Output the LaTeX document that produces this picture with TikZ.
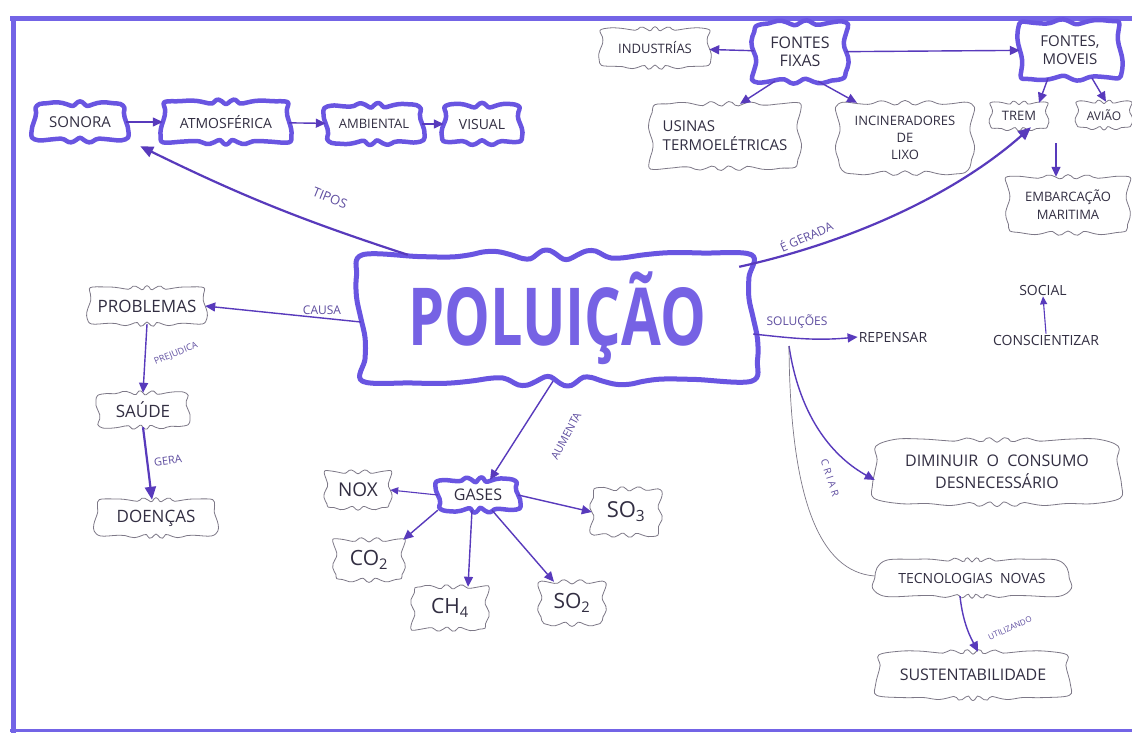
\documentclass[tikz,border=0pt]{standalone}
\usepackage{fontspec}
\setmainfont{Open Sans}
\usetikzlibrary{arrows.meta,calc}

\definecolor{hubc}{RGB}{105,85,225}
\definecolor{framec}{RGB}{115,100,230}
\definecolor{ink}{RGB}{88,58,188}
\definecolor{txt}{RGB}{50,46,66}
\definecolor{cloudc}{RGB}{125,120,135}
\definecolor{lblc}{RGB}{95,78,160}
\definecolor{bigc}{RGB}{118,98,228}

\newcommand\fsz[2]{\fontsize{#1}{#2}\selectfont}

% wavy hand-drawn outline around a node: #1 node, #2 line style, #3 depth, #4 frequency
\newcommand\wobble[4]{%
  \gdef\wobblelist{}%
  \foreach \wt in {0,6,...,354}{%
    \coordinate (#1-w\wt) at ($(#1.\wt)!{(#3)*sin((#4)*\wt)*1pt}!(#1.center)$);%
    \xdef\wobblelist{\wobblelist (#1-w\wt)}%
  }%
  \edef\wobbledraw{\noexpand\draw[#2] plot[smooth cycle, tension=0.6] coordinates {\wobblelist};}%
  \wobbledraw}

\tikzset{
  boxtext/.style={text=txt, align=center, inner sep=3pt},
  hubline/.style={draw=hubc, line width=4.5pt, line join=round},
  bigline/.style={draw=hubc, line width=5pt, line join=round},
  cloudline/.style={draw=cloudc, line width=0.8pt, line join=round},
  plain/.style={text=txt, inner sep=1pt},
  arr/.style={draw=ink, line width=1.4pt, -{Triangle[length=10pt,width=9pt]}},
  thickarr/.style={arr, line width=2.2pt, -{Triangle[length=13pt,width=11pt]}},
  smallarr/.style={arr, line width=1.1pt, -{Triangle[length=8pt,width=7pt]}},
  lbl/.style={text=lblc, inner sep=1pt, font=\fsz{11}{12}},
}

\begin{document}
\begin{tikzpicture}[x=1pt, y=-1pt]
\useasboundingbox (0,0) rectangle (1132,733);
\fill[white] (0,0) rectangle (1132,733);

% page frame
\draw[framec, line width=5pt] (10,19) -- (1132,19);
\draw[framec, line width=5pt] (13,17) -- (13,733);
\draw[framec, line width=3pt] (10,730.5) -- (1132,730.5);

% central concept
\node[boxtext, minimum width=392pt, minimum height=126pt] (poluicao) at (557,318)
  {\textcolor{bigc}{\scalebox{0.72}[1]{\fsz{80}{80}\bfseries POLUIÇÃO}}};
\wobble{poluicao}{bigline}{5}{10}

% types
\node[boxtext, minimum width=92pt, minimum height=36pt, font=\fsz{15}{18}] (sonora) at (80,122) {SONORA};
\node[boxtext, minimum width=126pt, minimum height=40pt, font=\fsz{14}{18}] (atmos) at (226,122) {ATMOSFÉRICA};
\node[boxtext, minimum width=96pt, minimum height=37pt, font=\fsz{13}{18}] (amb) at (374,124) {AMBIENTAL};
\node[boxtext, minimum width=76pt, minimum height=37pt, font=\fsz{14}{18}] (vis) at (482,124) {VISUAL};
\wobble{sonora}{hubline}{2.4}{7}
\wobble{atmos}{hubline}{2.4}{9}
\wobble{amb}{hubline}{2.4}{8}
\wobble{vis}{hubline}{2.4}{7}

\draw[arr] (sonora) -- (atmos);
\draw[arr] (atmos) -- (amb);
\draw[arr] (amb) -- (vis);

\draw[thickarr] ([xshift=47pt]poluicao.north west) to[bend left=4] ([xshift=14pt,yshift=-6pt]sonora.south east);
\node[lbl, rotate=-22, font=\fsz{13}{14}] (tipos) at (330,198) {TIPOS};

% sources
\node[boxtext, minimum width=92pt, minimum height=58pt, font=\fsz{16}{18}] (fixas) at (800,52) {FONTES\\FIXAS};
\node[boxtext, minimum width=100pt, minimum height=56pt, font=\fsz{15}{18}] (moveis) at (1070,50) {FONTES,\\MOVEIS};
\wobble{fixas}{hubline}{2.5}{8}
\wobble{moveis}{hubline}{2.5}{6}
\node[boxtext, minimum width=108pt, minimum height=38pt, font=\fsz{13}{15}] (ind) at (655,48) {INDUSTRÍAS};
\node[boxtext, minimum width=148pt, minimum height=64pt, font=\fsz{15}{19}, align=left] (usinas) at (725,136) {USINAS\\TERMOELÉTRICAS};
\node[boxtext, minimum width=134pt, minimum height=70pt, font=\fsz{13}{17}] (incin) at (905,138) {INCINERADORES\\DE\\LIXO};
\node[boxtext, minimum width=56pt, minimum height=26pt, font=\fsz{13}{15}] (trem) at (1019,116) {TREM};
\node[boxtext, minimum width=54pt, minimum height=26pt, font=\fsz{12}{15}] (aviao) at (1104,115) {AVIÃO};
\node[boxtext, minimum width=120pt, minimum height=56pt, font=\fsz{13}{18}] (embarc) at (1068,205) {EMBARCAÇÃO\\MARITIMA};
\wobble{ind}{cloudline}{2.2}{11}
\wobble{usinas}{cloudline}{2.4}{12}
\wobble{incin}{cloudline}{2.4}{11}
\wobble{trem}{cloudline}{1.8}{9}
\wobble{aviao}{cloudline}{1.8}{9}
\wobble{embarc}{cloudline}{2.2}{11}

\draw[arr] (fixas) -- (ind);
\draw[arr] (fixas) -- (moveis);
\draw[arr] ([xshift=-25pt]fixas.south) -- ([xshift=15pt]usinas.north);
\draw[arr] ([xshift=18pt]fixas.south) -- ([xshift=-48pt]incin.north);
\draw[arr] ([xshift=-22pt]moveis.south) -- ([xshift=20pt]trem.north);
\draw[arr] ([xshift=22pt]moveis.south) -- ([xshift=2pt]aviao.north);
\draw[arr] ([xshift=37pt,yshift=-14pt]trem.south) -- ([xshift=-12pt]embarc.north);

\draw[thickarr] ([xshift=-14pt,yshift=-12pt]poluicao.north east)
  .. controls (860,240) and (960,190) .. ([xshift=12pt,yshift=2pt]trem.south);
\node[lbl, rotate=24, font=\fsz{12}{13}] (gerada) at (806,236) {É GERADA};

% effects
\node[boxtext, minimum width=116pt, minimum height=36pt, font=\fsz{17}{19}] (problemas) at (147,306) {PROBLEMAS};
\node[boxtext, minimum width=90pt, minimum height=34pt, font=\fsz{17}{19}] (saude) at (143,410) {SAÚDE};
\node[boxtext, minimum width=120pt, minimum height=36pt, font=\fsz{17}{19}] (doencas) at (156,518) {DOENÇAS};
\wobble{problemas}{cloudline}{2.2}{11}
\wobble{saude}{cloudline}{2.2}{10}
\wobble{doencas}{cloudline}{2.2}{11}

\draw[arr] ([yshift=-4pt]poluicao.west) -- (problemas.east);
\node[lbl, font=\fsz{12}{13}] (causa) at (322,310) {CAUSA};
\draw[arr] (problemas.south) -- (saude.north);
\node[lbl, rotate=22, font=\fsz{9}{10}] (prejudica) at (176,354) {PREJUDICA};
\draw[thickarr] (saude.south) -- ([xshift=-4pt]doencas.north);
\node[lbl, rotate=8, font=\fsz{11}{12}] (gera) at (168,461) {GERA};

% gases
\node[boxtext, minimum width=80pt, minimum height=30pt, font=\fsz{16}{18}] (gases) at (478,495) {GASES};
\wobble{gases}{hubline}{2.5}{8}
\node[boxtext, minimum width=64pt, minimum height=36pt, font=\fsz{19}{21}] (nox) at (358,490) {NOX};
\node[boxtext, minimum width=68pt, minimum height=46pt, font=\fsz{22}{24}] (so3) at (626,512) {SO\textsubscript{3}};
\node[boxtext, minimum width=68pt, minimum height=40pt, font=\fsz{21}{23}] (co2) at (369,560) {CO\textsubscript{2}};
\node[boxtext, minimum width=74pt, minimum height=42pt, font=\fsz{21}{23}] (ch4) at (450,608) {CH\textsubscript{4}};
\node[boxtext, minimum width=64pt, minimum height=42pt, font=\fsz{21}{23}] (so2) at (572,603) {SO\textsubscript{2}};
\wobble{nox}{cloudline}{2}{9}
\wobble{so3}{cloudline}{2.2}{10}
\wobble{co2}{cloudline}{2.2}{9}
\wobble{ch4}{cloudline}{2.2}{10}
\wobble{so2}{cloudline}{2.2}{9}

\draw[arr] ([xshift=-4pt]poluicao.south) -- ([xshift=12pt]gases.north);
\node[lbl, rotate=62, font=\fsz{11}{12}] (aumenta) at (566,436) {AUMENTA};
\draw[smallarr] (gases.west) -- (nox.east);
\draw[arr] (gases.east) -- (so3.west);
\draw[arr] (gases.south west) -- (co2.north east);
\draw[arr] ([xshift=-6pt]gases.south) -- ([xshift=18pt]ch4.north);
\draw[arr] ([xshift=14pt]gases.south) -- ([xshift=-18pt]so2.north);

% solutions
\node[plain, font=\fsz{14}{16}] (repensar) at (893,337) {REPENSAR};
\node[plain, font=\fsz{14}{16}] (social) at (1043,290) {SOCIAL};
\node[plain, font=\fsz{14}{16}] (consc) at (1046,340) {CONSCIENTIZAR};
\node[boxtext, minimum width=244pt, minimum height=64pt, font=\fsz{16}{22}] (diminuir) at (997,472) {DIMINUIR \ O \ CONSUMO\\DESNECESSÁRIO};
\node[boxtext, minimum width=194pt, minimum height=36pt, font=\fsz{14}{16}] (tecno) at (972,578) {TECNOLOGIAS \ NOVAS};
\node[boxtext, minimum width=190pt, minimum height=46pt, font=\fsz{16}{18}] (sust) at (973,675) {SUSTENTABILIDADE};
\wobble{diminuir}{cloudline}{2.4}{13}
\wobble{tecno}{cloudline}{2.2}{13}
\wobble{sust}{cloudline}{2.4}{13}

\draw[arr] ([yshift=-16pt]poluicao.east) .. controls (790,338) and (815,341) .. (repensar.west);
\node[lbl, font=\fsz{12}{13}] (soluc) at (797,322) {SOLUÇÕES};
\coordinate (fork) at (789,346);
\draw[arr] (fork) .. controls (800,420) and (835,458) .. ([yshift=-8pt]diminuir.west);
\draw[draw=cloudc, line width=0.7pt] (fork) .. controls (790,500) and (820,572) .. ([yshift=2pt]tecno.west);
\node[lbl, rotate=-72, font=\fsz{10}{11}] (criar) at (830,478) {C R I A R};
\draw[arr] ([xshift=-12pt]tecno.south) .. controls (963,625) and (972,640) .. ([xshift=5pt]sust.north);
\node[lbl, rotate=24, font=\fsz{8}{9}] (utiliz) at (1010,628) {UTILIZANDO};
\draw[smallarr] (consc.north) -- (social.south);

\end{tikzpicture}
\end{document}
